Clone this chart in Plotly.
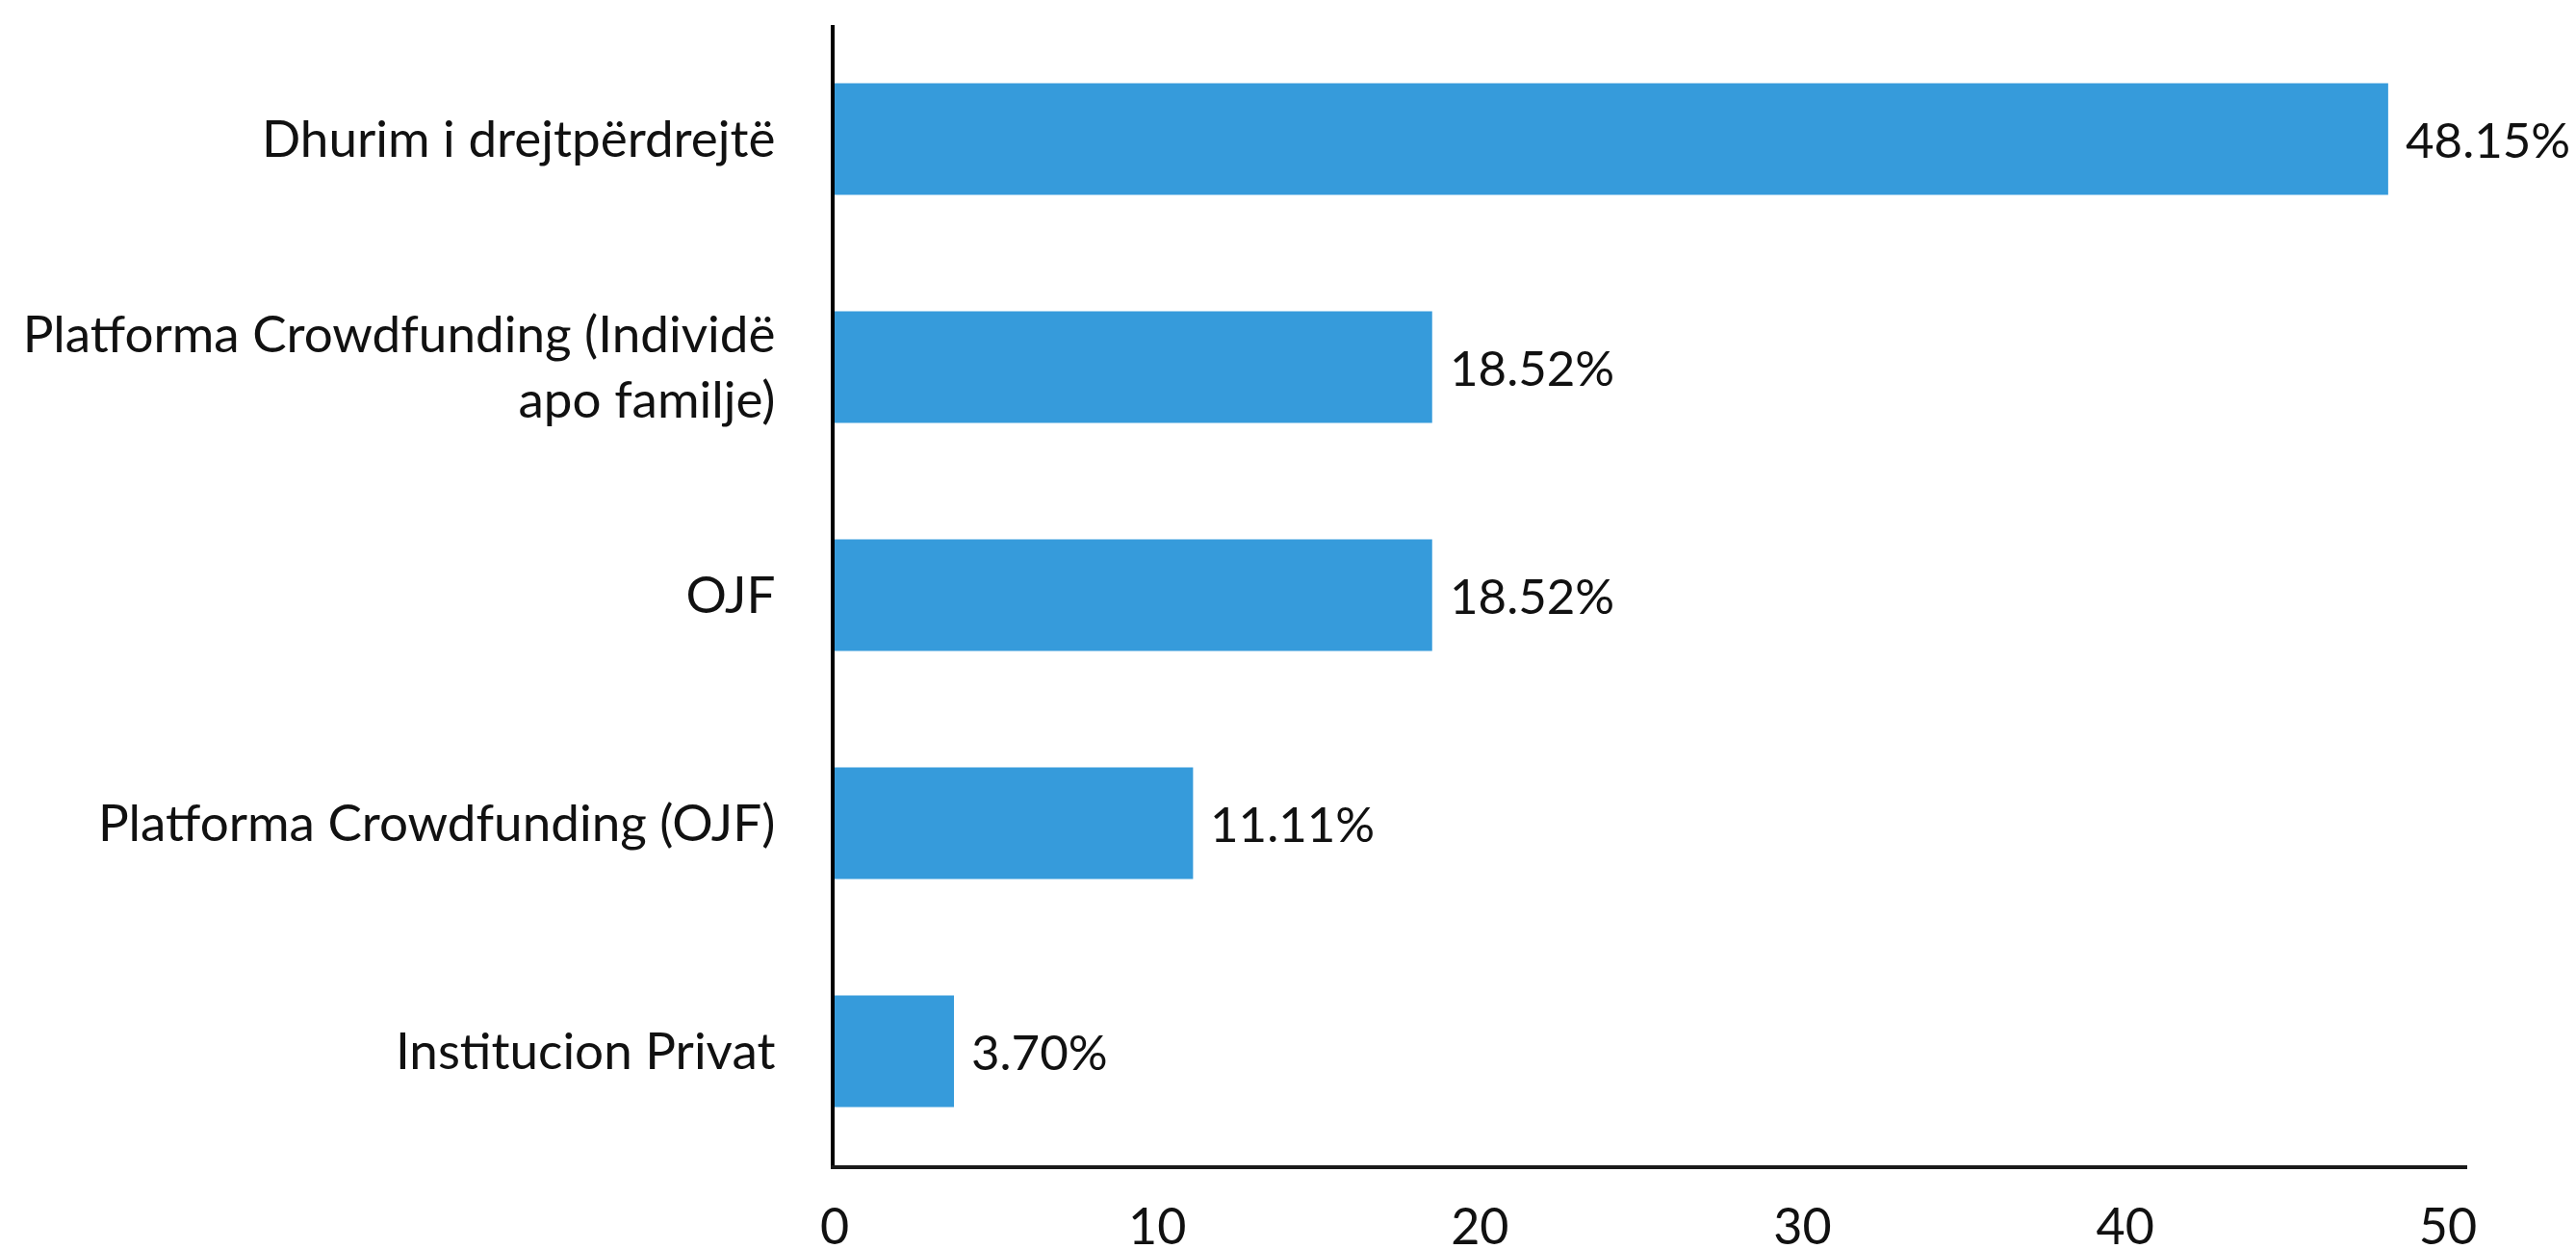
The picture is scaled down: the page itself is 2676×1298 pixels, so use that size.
import plotly.graph_objects as go

categories = [
    "Dhurim i drejtpërdrejtë",
    "Platforma Crowdfunding (Individë<br>apo familje)",
    "OJF",
    "Platforma Crowdfunding (OJF)",
    "Institucion Privat",
]
values = [48.15, 18.52, 18.52, 11.11, 3.70]
tick_vals = [0, 10, 20, 30, 40, 50]

FONT = "Lato, 'Open Sans', sans-serif"
BAR = "#369bdb"

fig = go.Figure()
fig.add_trace(go.Bar(
    x=values, y=categories, orientation="h",
    marker=dict(color=BAR, line=dict(width=0)),
    hoverinfo="skip",
))

for v, c in zip(values, categories):
    fig.add_annotation(
        x=v, y=c, xref="x", yref="y",
        text=f"{v:.2f}%", showarrow=False,
        xanchor="left", yanchor="middle", xshift=16,
        font=dict(family=FONT, size=51, color="#111111"),
    )

fig.update_layout(
    width=2660, height=1290,
    margin=dict(l=859, r=105, t=18, b=87, autoexpand=False),
    paper_bgcolor="white", plot_bgcolor="white",
    bargap=0.51, showlegend=False,
    font=dict(family=FONT, size=52, color="#111111"),
)
fig.update_xaxes(
    range=[0, 50.6], tickvals=tick_vals, showgrid=False, zeroline=False,
    showline=True, linecolor="#1a1a1a", linewidth=4, automargin=False,
    ticks="", ticklabelstandoff=16,
    tickfont=dict(family=FONT, size=52, color="#111111"),
)
fig.update_yaxes(
    range=[4.5, -0.5], showgrid=False, zeroline=False,
    showline=True, linecolor="#000000", linewidth=4, automargin=False,
    ticks="", ticklabelstandoff=47,
    tickfont=dict(family=FONT, size=53, color="#111111"),
)

fig.write_html("out.html")
